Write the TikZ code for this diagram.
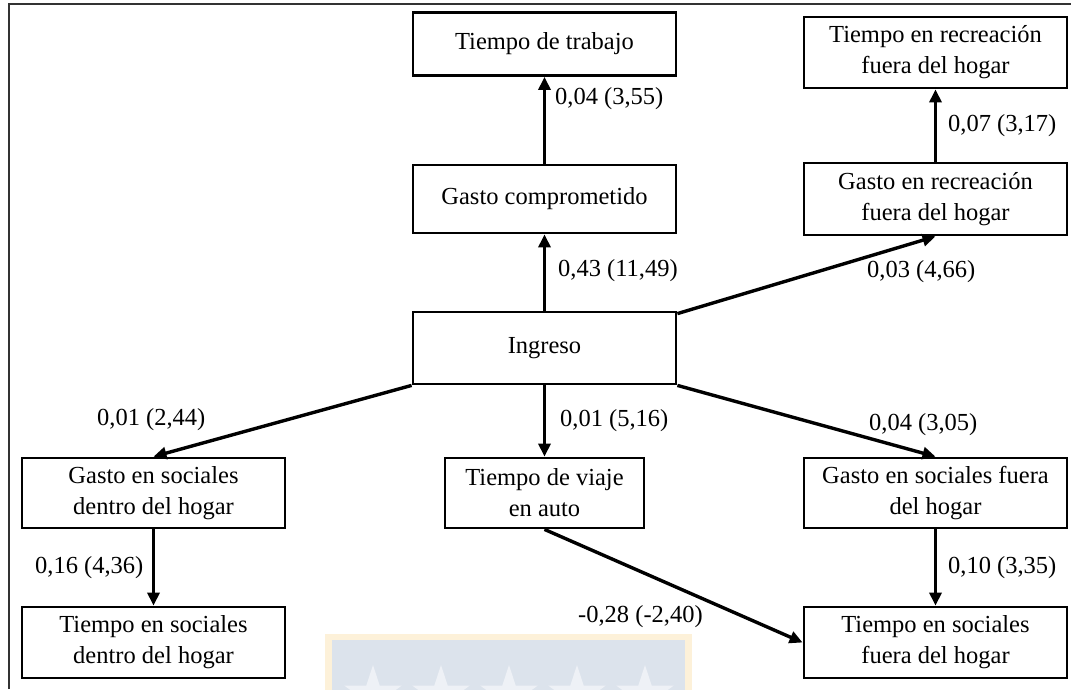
\documentclass[tikz,border=0pt]{standalone}
\usepackage{fontspec}
\setmainfont{Liberation Serif}
\usetikzlibrary{arrows.meta}
\definecolor{wmblue}{HTML}{DCE3EC}
\definecolor{wmgold}{HTML}{FDF1D9}
\definecolor{wmstar}{HTML}{EEF1F6}
\begin{document}
\begin{tikzpicture}[x=1pt,y=-1pt,
  every node/.style={font=\fontsize{24.5}{31}\selectfont},
  box/.style={draw, line width=2.8pt, inner sep=0pt, align=center},
  lbl/.style={inner sep=0pt, anchor=west},
  link/.style={line width=3.4pt, -{Triangle[length=13pt,width=12pt]}},
  frame/.style={line width=2.5pt, black!80}
]
\useasboundingbox (0,0) rectangle (1071,689);

% faint crest in the lower margin
\fill[wmgold] (325,634) rectangle (692,700);
\fill[wmblue] (332,640) rectangle (685,700);
\foreach \cx in {373,441,509,577,645}{
  \fill[wmstar] (\cx,695) +(-90:30) -- +(-54:11.5) -- +(-18:30) -- +(18:11.5)
    -- +(54:30) -- +(90:11.5) -- +(126:30) -- +(162:11.5) -- +(198:30)
    -- +(234:11.5) -- cycle;
}

% outer frame
\draw[frame] (9,689) -- (9,4) -- (1071,4);

% boxes
\node[box, minimum width=263pt, minimum height=63pt] (trabajo) at (544.5,44) {Tiempo de trabajo};
\node[box, minimum width=263pt, minimum height=68pt] (gcomp) at (544.5,199) {Gasto comprometido};
\node[box, minimum width=263pt, minimum height=72pt] (ing) at (544.5,348) {Ingreso};
\node[box, minimum width=263pt, minimum height=71pt] (trec) at (935.5,52.5) {Tiempo en recreación\\fuera del hogar};
\node[box, minimum width=263pt, minimum height=72pt] (grec) at (935.5,199) {Gasto en recreación\\fuera del hogar};
\node[box, minimum width=263pt, minimum height=70pt] (gsd) at (153.5,493) {Gasto en sociales\\dentro del hogar};
\node[box, minimum width=199pt, minimum height=70pt] (viaje) at (544.5,493) {Tiempo de viaje\\en auto};
\node[box, minimum width=263pt, minimum height=70pt] (gsf) at (935.5,493) {Gasto en sociales fuera\\del hogar};
\node[box, minimum width=263pt, minimum height=71pt] (tsd) at (153.5,642.5) {Tiempo en sociales\\dentro del hogar};
\node[box, minimum width=263pt, minimum height=71pt] (tsf) at (935.5,642.5) {Tiempo en sociales\\fuera del hogar};

% connectors
\draw[link] (gcomp.north) -- (trabajo.south);
\draw[link] (grec.north) -- (trec.south);
\draw[link] (ing.north) -- (gcomp.south);
\draw[link] ([yshift=-3pt]ing.north east) -- (grec.south);
\draw[link] (ing.south west) -- (gsd.north);
\draw[link] (ing.south) -- (viaje.north);
\draw[link] (ing.south east) -- (gsf.north);
\draw[link] (gsd.south) -- (tsd.north);
\draw[link] (gsf.south) -- (tsf.north);
\draw[link] (viaje.south) -- (tsf.west);

% coefficients
\node[lbl] (c1) at (555,99) {0,04 (3,55)};
\node[lbl] (c2) at (948,126) {0,07 (3,17)};
\node[lbl] (c3) at (558,271) {0,43 (11,49)};
\node[lbl] (c4) at (867,272) {0,03 (4,66)};
\node[lbl] (c5) at (97,420) {0,01 (2,44)};
\node[lbl] (c6) at (560,421) {0,01 (5,16)};
\node[lbl] (c7) at (869,425) {0,04 (3,05)};
\node[lbl] (c8) at (35,568) {0,16 (4,36)};
\node[lbl] (c9) at (948,568) {0,10 (3,35)};
\node[lbl] (c10) at (578,617) {-0,28 (-2,40)};
\end{tikzpicture}
\end{document}
